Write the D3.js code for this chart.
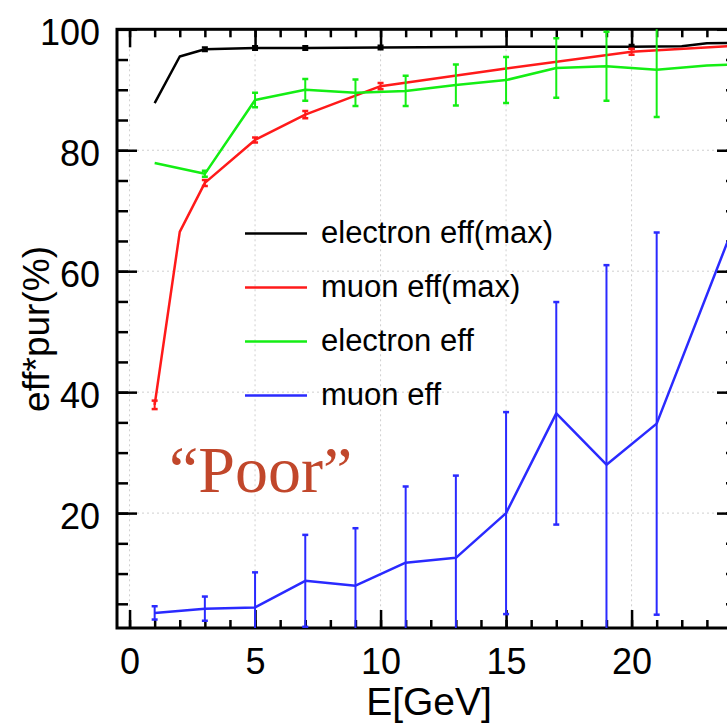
<!DOCTYPE html>
<html>
<head>
<meta charset="utf-8">
<script src="https://cdn.jsdelivr.net/npm/d3@7"></script>
<style>
  html, body { margin: 0; padding: 0; background: #fff; }
  svg { display: block; }
</style>
</head>
<body>
<svg id="chart" width="727" height="724"></svg>
<script>
// ---- data ----
const energyMax = [1, 2, 3, 5, 7, 10, 15, 20, 22, 23, 25];
const electronEffMax = [87.8, 95.5, 96.7, 96.9, 96.9, 97.0, 97.1, 97.1, 97.2, 97.7, 97.8];
const electronEffMaxErr = [0, 0, 0.3, 0.3, 0.3, 0.3, 0, 0.3, 0, 0, 0];

const energyMuMax = [1, 2, 3, 5, 7, 10, 15, 20, 25];
const muonEffMax = [37.9, 66.5, 74.6, 81.7, 85.9, 90.6, 93.5, 96.3, 97.5];
const muonEffMaxErr = [0.7, 0, 0.5, 0.4, 0.6, 0.5, 0, 0.5, 0];

const energyOdd = [1, 3, 5, 7, 9, 11, 13, 15, 17, 19, 21, 23, 25];
const electronEff = [77.9, 76.1, 88.3, 90.0, 89.5, 89.8, 90.8, 91.6, 93.6, 93.9, 93.3, 94.0, 94.3];
const electronEffErr = [0, 0.5, 1.2, 1.8, 2.2, 2.5, 3.4, 3.8, 4.9, 5.7, 7.8, 0, 0];

const energyMu = [1, 3, 5, 7, 9, 11, 13, 15, 17, 19, 21, 25];
const muonEff = [3.5, 4.2, 4.4, 8.8, 8.0, 11.8, 12.6, 20.0, 36.5, 28.0, 34.8, 77.4];
const muonEffErr = [1.1, 2.0, 5.8, 7.6, 9.5, 12.6, 13.6, 16.7, 18.4, 33.0, 31.6, 0];

const xTickValues = [0, 5, 10, 15, 20];
const yTickValues = [20, 40, 60, 80, 100];
const legendLabels = ["electron eff(max)", "muon eff(max)", "electron eff", "muon eff"];
const seriesColors = ["#000000", "#ff1a1a", "#14ee14", "#2a2aff"];

// ---- layout ----
const svg = d3.select("#chart");
const plotLeft = 117, plotRight = 737, plotTop = 29.3, plotBottom = 628;
const x = d3.scaleLinear().domain([-0.5, 24.2]).range([plotLeft, plotRight]);
const y = d3.scaleLinear().domain([1, 100]).range([plotBottom, plotTop]);
const sans = "'Liberation Sans', Arial, Helvetica, sans-serif";

svg.append("defs").append("clipPath").attr("id", "plotClip")
  .append("rect").attr("x", plotLeft).attr("y", plotTop)
  .attr("width", plotRight - plotLeft).attr("height", plotBottom - plotTop);

// dotted grid at major ticks
const grid = svg.append("g").attr("stroke", "#cfcfcf").attr("stroke-width", 1)
  .attr("stroke-dasharray", "2,3");
xTickValues.forEach(v => grid.append("line")
  .attr("x1", x(v)).attr("x2", x(v)).attr("y1", plotTop).attr("y2", plotBottom));
yTickValues.filter(v => v < 100).forEach(v => grid.append("line")
  .attr("x1", plotLeft).attr("x2", plotRight).attr("y1", y(v)).attr("y2", y(v)));

// ---- axes: ticks on all four sides, pointing inward ----
const xMinor = d3.range(0, 25, 1);
const yMinor = d3.range(5, 101, 5);
const axisG = svg.append("g");
const noDomain = g => g.select(".domain").remove();

axisG.append("g").attr("transform", `translate(0,${plotBottom})`)
  .call(d3.axisBottom(x).tickValues(xMinor).tickFormat("").tickSizeInner(-8).tickSizeOuter(0))
  .call(noDomain);
axisG.append("g").attr("class", "xlab").attr("transform", `translate(0,${plotBottom})`)
  .call(d3.axisBottom(x).tickValues(xTickValues).tickSizeInner(-18).tickSizeOuter(0).tickPadding(20))
  .call(noDomain);
axisG.append("g").attr("transform", `translate(0,${plotTop})`)
  .call(d3.axisTop(x).tickValues(xMinor).tickFormat("").tickSizeInner(-8).tickSizeOuter(0))
  .call(noDomain);
axisG.append("g").attr("transform", `translate(0,${plotTop})`)
  .call(d3.axisTop(x).tickValues(xTickValues).tickFormat("").tickSizeInner(-18).tickSizeOuter(0))
  .call(noDomain);

axisG.append("g").attr("transform", `translate(${plotLeft},0)`)
  .call(d3.axisLeft(y).tickValues(yMinor).tickFormat("").tickSizeInner(-11).tickSizeOuter(0))
  .call(noDomain);
axisG.append("g").attr("class", "ylab").attr("transform", `translate(${plotLeft},0)`)
  .call(d3.axisLeft(y).tickValues(yTickValues).tickSizeInner(-20).tickSizeOuter(0).tickPadding(17))
  .call(noDomain);
axisG.append("g").attr("transform", `translate(${plotRight},0)`)
  .call(d3.axisRight(y).tickValues(yMinor).tickFormat("").tickSizeInner(-11).tickSizeOuter(0))
  .call(noDomain);
axisG.append("g").attr("transform", `translate(${plotRight},0)`)
  .call(d3.axisRight(y).tickValues(yTickValues).tickFormat("").tickSizeInner(-20).tickSizeOuter(0))
  .call(noDomain);

axisG.selectAll(".tick line").attr("stroke", "#000").attr("stroke-width", 2.5);
axisG.selectAll(".tick text").attr("fill", "#000").attr("font-family", sans).attr("font-size", 36);
axisG.select(".ylab").selectAll(".tick text").attr("dy", "0.42em");

// frame
svg.append("rect").attr("x", plotLeft).attr("y", plotTop)
  .attr("width", plotRight - plotLeft).attr("height", plotBottom - plotTop)
  .attr("fill", "none").attr("stroke", "#000").attr("stroke-width", 3);

// ---- series ----
const plot = svg.append("g").attr("clip-path", "url(#plotClip)");
const line = d3.line().x(d => x(d[0])).y(d => y(d[1]));

function drawSeries(xs, vals, errs, color) {
  const pts = xs.map((v, i) => [v, vals[i], errs[i]]);
  const g = plot.append("g");
  const bars = pts.filter(p => p[2] > 0);
  g.selectAll("line.bar").data(bars).join("line").attr("class", "bar")
    .attr("x1", d => x(d[0])).attr("x2", d => x(d[0]))
    .attr("y1", d => y(d[1] - d[2])).attr("y2", d => y(d[1] + d[2]))
    .attr("stroke", color).attr("stroke-width", 2);
  [-1, 1].forEach(s => {
    g.selectAll("line.cap" + (s > 0 ? "u" : "d")).data(bars).join("line")
      .attr("class", "cap" + (s > 0 ? "u" : "d"))
      .attr("x1", d => x(d[0]) - 3).attr("x2", d => x(d[0]) + 3)
      .attr("y1", d => y(d[1] + s * d[2])).attr("y2", d => y(d[1] + s * d[2]))
      .attr("stroke", color).attr("stroke-width", 2.5);
  });
  g.append("path").datum(pts).attr("d", line)
    .attr("fill", "none").attr("stroke", color).attr("stroke-width", 2.5)
    .attr("stroke-linejoin", "round");
}

drawSeries(energyMax, electronEffMax, electronEffMaxErr, seriesColors[0]);
drawSeries(energyMuMax, muonEffMax, muonEffMaxErr, seriesColors[1]);
drawSeries(energyOdd, electronEff, electronEffErr, seriesColors[2]);
drawSeries(energyMu, muonEff, muonEffErr, seriesColors[3]);

// ---- legend ----
const legend = svg.append("g");
legendLabels.forEach((label, i) => {
  const ly = 233.5 + i * 54;
  legend.append("line").attr("x1", 245).attr("x2", 307).attr("y1", ly).attr("y2", ly)
    .attr("stroke", seriesColors[i]).attr("stroke-width", 2.5);
  legend.append("text").attr("x", 321).attr("y", ly).attr("dy", "0.3em")
    .attr("font-family", sans).attr("font-size", 31).attr("fill", "#000").text(label);
});

// ---- annotation and titles ----
svg.append("text").attr("x", 169).attr("y", 492)
  .attr("font-family", "'Liberation Serif', 'Times New Roman', serif")
  .attr("font-size", 66).attr("fill", "#c1472b").text("\u201CPoor\u201D");

svg.append("text").attr("x", 429).attr("y", 715).attr("text-anchor", "middle")
  .attr("font-family", sans).attr("font-size", 39).attr("fill", "#000").text("E[GeV]");

svg.append("text").attr("transform", "translate(49,329) rotate(-90)")
  .attr("text-anchor", "middle").attr("font-family", sans).attr("font-size", 37)
  .attr("fill", "#000").text("eff*pur(%)");
</script>
</body>
</html>
